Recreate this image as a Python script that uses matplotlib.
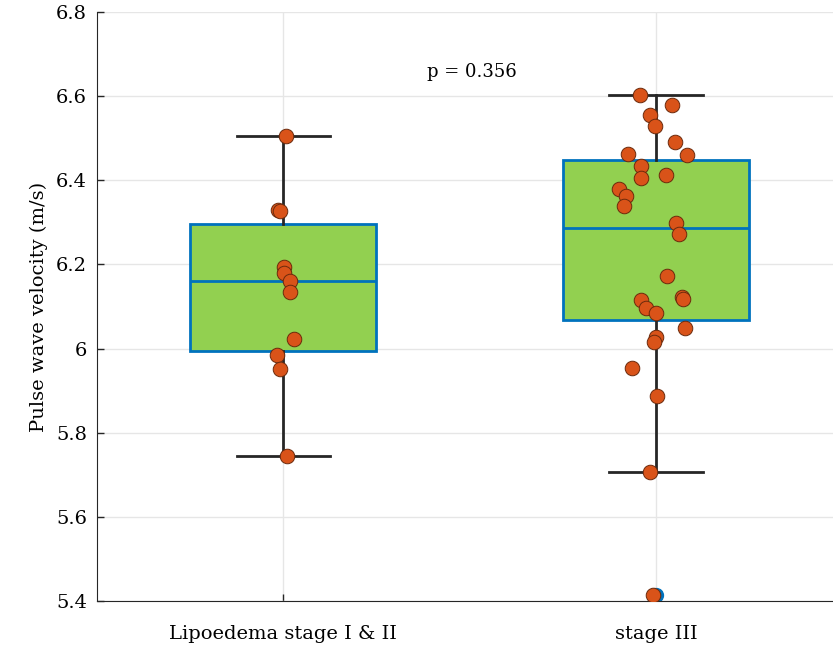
import matplotlib.pyplot as plt

plt.rcParams['font.family'] = ['DejaVu Serif']

groups = ['Lipoedema stage I & II', 'stage III']

# box statistics
q1 = [5.994, 6.068]
median = [6.161, 6.287]
q3 = [6.295, 6.448]
whislo = [5.745, 5.707]
whishi = [6.506, 6.603]
outliers = [[], [5.414]]

# individual measurements
stage12 = [6.506, 6.330, 6.327, 6.195, 6.179, 6.161, 6.135, 6.022, 5.984, 5.952, 5.745]
stage12_jitter = [0.008, -0.013, -0.008, 0.003, 0.003, 0.019, 0.018, 0.028, -0.016, -0.008, 0.010]

stage3 = [6.603, 6.579, 6.556, 6.530, 6.490, 6.462, 6.460, 6.434, 6.405, 6.413,
          6.379, 6.362, 6.339, 6.298, 6.273, 6.172, 6.123, 6.119, 6.115, 6.097,
          6.085, 6.050, 6.028, 6.016, 5.953, 5.888, 5.707, 5.414]
stage3_jitter = [-0.042, 0.044, -0.017, -0.002, 0.052, -0.075, 0.084, -0.040, -0.040, 0.027,
                 -0.100, -0.081, -0.086, 0.054, 0.061, 0.030, 0.070, 0.072, -0.040, -0.028,
                 -0.001, 0.078, -0.001, -0.006, -0.064, 0.002, -0.016, -0.007]

p_text = 'p = 0.356'

fig = plt.figure(figsize=(8.33, 6.53), dpi=100)
ax = fig.add_axes([0.1164, 0.0796, 0.8836, 0.902])

stats = []
for i in range(len(groups)):
    stats.append({'med': median[i], 'q1': q1[i], 'q3': q3[i],
                  'whislo': whislo[i], 'whishi': whishi[i], 'fliers': outliers[i]})

ax.bxp(stats, positions=[1, 2], widths=0.5, patch_artist=True, capwidths=0.25,
       boxprops=dict(facecolor='#92D050', edgecolor='#0072BD', linewidth=2),
       medianprops=dict(color='#0072BD', linewidth=2),
       whiskerprops=dict(color='#262626', linewidth=2),
       capprops=dict(color='#262626', linewidth=2),
       flierprops=dict(marker='o', markerfacecolor='#0072BD', markeredgecolor='#0072BD',
                       markersize=10),
       zorder=2)

ax.scatter([1 + j for j in stage12_jitter], stage12, s=110, color='#D95319',
           edgecolor='#6b2a0c', linewidth=0.7, zorder=4)
ax.scatter([2 + j for j in stage3_jitter], stage3, s=110, color='#D95319',
           edgecolor='#6b2a0c', linewidth=0.7, zorder=4)

ax.text(1.507, 6.657, p_text, ha='center', va='center', fontsize=13)

ax.set_xlim(0.5, 2.475)
ax.set_ylim(5.4, 6.8)
ax.set_yticks([5.4, 5.6, 5.8, 6.0, 6.2, 6.4, 6.6, 6.8])
ax.set_yticklabels(['5.4', '5.6', '5.8', '6', '6.2', '6.4', '6.6', '6.8'])
ax.set_xticks([1, 2])
ax.set_xticklabels(groups)
ax.tick_params(direction='in', length=5, width=1, color='#262626', labelsize=14)
ax.tick_params(axis='y', pad=7)
ax.tick_params(axis='x', pad=17)
ax.set_ylabel('Pulse wave velocity (m/s)', fontsize=14, labelpad=6)

ax.grid(True, color='#e6e6e6', linewidth=1, zorder=0)
ax.set_axisbelow(True)
ax.spines['top'].set_visible(False)
ax.spines['right'].set_visible(False)
ax.spines['left'].set_color('#262626')
ax.spines['bottom'].set_color('#262626')

fig.savefig('out.png', dpi=100)
